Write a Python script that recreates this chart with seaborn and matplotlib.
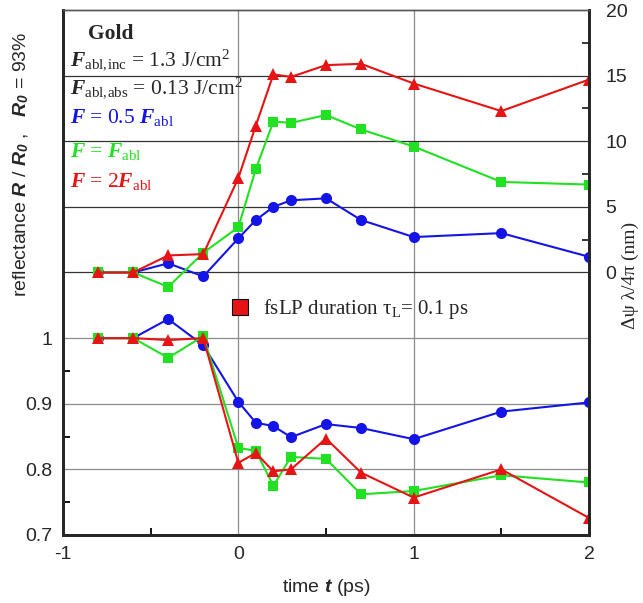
import matplotlib.pyplot as plt
import seaborn as sns
from matplotlib.lines import Line2D

# time delays (ps)
t = [-0.8, -0.6, -0.4, -0.2, 0.0, 0.1, 0.2, 0.3, 0.5, 0.7, 1.0, 1.5, 2.0]

# reflectance R/R0 (left axis)
refl_half = [1.0, 1.0, 1.029, 0.989, 0.903, 0.871, 0.866, 0.849, 0.869, 0.863, 0.846, 0.888, 0.902]
refl_one = [1.0, 1.0, 0.970, 1.003, 0.833, 0.828, 0.775, 0.819, 0.816, 0.762, 0.767, 0.791, 0.780]
refl_two = [1.0, 1.0, 0.997, 1.0, 0.810, 0.825, 0.797, 0.800, 0.847, 0.795, 0.757, 0.800, 0.726]

# phase shift dpsi*lambda/4pi in nm (right axis)
phase_half = [0.0, 0.0, 0.7, -0.3, 2.6, 4.0, 5.0, 5.5, 5.65, 4.0, 2.7, 3.0, 1.2]
phase_one = [0.0, 0.0, -1.1, 1.5, 3.45, 7.9, 11.5, 11.4, 12.0, 10.9, 9.6, 6.9, 6.7]
phase_two = [0.0, 0.0, 1.3, 1.4, 7.2, 11.2, 15.1, 14.9, 15.8, 15.9, 14.4, 12.3, 14.7]

blue = '#1414e6'
green = '#22e022'
red = '#e61414'

sns.set_style('ticks')
plt.rcParams['font.family'] = ['Liberation Sans', 'DejaVu Sans']
plt.rcParams['mathtext.fontset'] = 'custom'
plt.rcParams['mathtext.rm'] = 'Liberation Serif'
plt.rcParams['mathtext.it'] = 'Liberation Serif:italic'
plt.rcParams['mathtext.bf'] = 'Liberation Serif:bold'
plt.rcParams['mathtext.bfit'] = 'Liberation Serif:italic:bold'
plt.rcParams['mathtext.sf'] = 'Liberation Sans:italic:bold'

fig = plt.figure(figsize=(6.43, 6.03), dpi=100)
ax = fig.add_axes([0.098, 0.1128, 0.818, 0.8706])
ax2 = ax.twinx()

# grid lines
for xv in [0, 1]:
    ax.axvline(xv, color='#8a8a8a', lw=0.9, zorder=0)
for yv in [0.8, 0.9, 1.0]:
    ax.axhline(yv, color='#8a8a8a', lw=0.9, zorder=0)
for yv in [0, 5, 10, 15]:
    ax2.axhline(yv, color='#333333', lw=0.9, zorder=0)

series = [
    (refl_half, phase_half, blue, 'o', 8.0),
    (refl_one, phase_one, green, 's', 7.0),
    (refl_two, phase_two, red, '^', 8.0),
]
for refl, phase, col, mk, ms in series:
    sns.lineplot(x=t, y=refl, ax=ax, color=col, marker=mk, markersize=ms,
                 markeredgecolor=col, markeredgewidth=0, linewidth=1.5)
    sns.lineplot(x=t, y=phase, ax=ax2, color=col, marker=mk, markersize=ms,
                 markeredgecolor=col, markeredgewidth=0, linewidth=1.5)

ax.set_xlim(-1, 2)
ax.set_ylim(0.7, 1.5)
ax2.set_ylim(-20, 20)

ax.set_xticks([-1, 0, 1, 2])
ax.set_xticklabels(['-1', '0', '1', '2'])
ax.set_xticks([-0.5, 0.5, 1.5], minor=True)
ax.set_yticks([0.7, 0.8, 0.9, 1.0])
ax.set_yticklabels(['0.7', '0.8', '0.9', '1'])
ax.set_yticks([0.75, 0.85, 0.95], minor=True)
ax2.set_yticks([0, 5, 10, 15, 20])
ax2.set_yticks([2.5, 7.5, 12.5, 17.5], minor=True)

ax.tick_params(axis='both', which='both', direction='in', labelsize=14,
               color='black', width=1.3)
ax.tick_params(axis='both', which='major', length=0)
ax.tick_params(axis='both', which='minor', length=5)
ax.tick_params(axis='y', pad=8)
ax.tick_params(axis='x', pad=8)
ax2.tick_params(axis='y', which='both', direction='in', labelsize=14,
                width=1.3, pad=12)
ax2.tick_params(axis='y', which='major', length=0)
ax2.tick_params(axis='y', which='minor', length=5)

for a in (ax, ax2):
    a.spines['left'].set_linewidth(2)
    a.spines['bottom'].set_linewidth(2)
    a.spines['right'].set_linewidth(2)
    a.spines['top'].set_linewidth(1.0)
    a.spines['top'].set_color('#555555')
    a.set_ylabel('')

ax.set_xlabel(r'time $\mathsf{t}$ (ps)', fontsize=14, labelpad=10)

fig.text(21 / 643, 1 - 164 / 603,
         r'reflectance $\mathsf{R}$ / $\mathsf{R}_{\mathsf{0}}$ ,   $\mathsf{R}_{\mathsf{0}}$ = 93%',
         rotation=90, ha='center', va='center', fontsize=14)
fig.text(630 / 643, 1 - 275 / 603, 'Δψ λ/4π (nm)', family='Liberation Serif',
         rotation=90, ha='center', va='center', fontsize=14)

tr = ax.transAxes
serif = dict(transform=tr, family='Liberation Serif', fontsize=15.5, va='baseline')
ax.text(0.0475, 0.945, 'Gold', fontweight='bold', **serif)
ax.text(0.0133, 0.894, r'$\mathbfit{F}_{\mathrm{abl,\!inc}}$ = 1.3 J/cm$^2$', **serif)
ax.text(0.0133, 0.840, r'$\mathbfit{F}_{\mathrm{abl,\!abs}}$ = 0.13 J/cm$^2$', **serif)
ax.text(0.0133, 0.785, r'$\mathbfit{F}$ = 0.5 $\mathbfit{F}_{\mathrm{abl}}$',
        color=blue, **serif)
ax.text(0.0133, 0.72, r'$\mathbfit{F}$ = $\mathbfit{F}_{\mathrm{abl}}$',
        color=green, **serif)
ax.text(0.0133, 0.663, r'$\mathbfit{F}$ = 2$\mathbfit{F}_{\mathrm{abl}}$',
        color=red, **serif)

handle = Line2D([], [], marker='s', linestyle='none', markersize=12,
                markerfacecolor=red, markeredgecolor='black', markeredgewidth=0.8)
leg = ax2.legend([handle], [r'fsLP duration $\mathrm{τ}_{\mathrm{L}}$= 0.1 ps'],
                 loc='center left', bbox_to_anchor=(0.317, 0.43),
                 frameon=False, borderpad=0, borderaxespad=0, handlelength=1.0,
                 handletextpad=0.6, prop={'family': 'Liberation Serif', 'size': 15})

fig.savefig('out.png', dpi=100)
